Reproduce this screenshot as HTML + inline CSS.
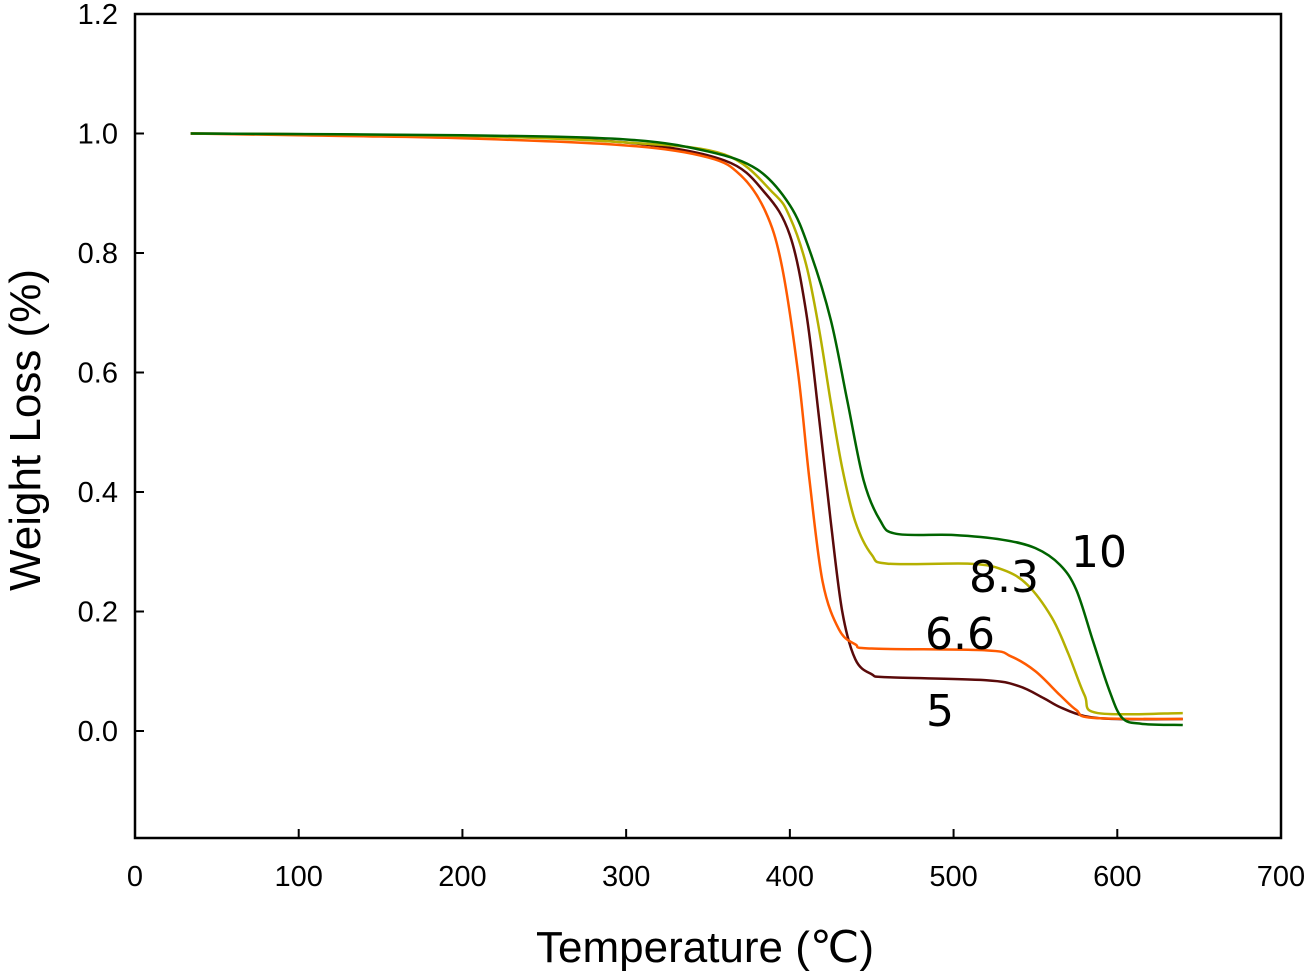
<!DOCTYPE html>
<html><head><meta charset="utf-8"><style>
body{margin:0;background:#fff;}
svg{display:block;font-family:"Liberation Sans",Arial,sans-serif;}
</style></head><body>
<svg id="chart" width="1307" height="973" viewBox="0 0 1307 973">
<g id="axes"></g>
<g id="series"></g>
<text x="705" y="962" font-size="44" text-anchor="middle" fill="#000">Temperature (℃)</text>
<text transform="translate(40,430) rotate(-90)" font-size="44" text-anchor="middle" fill="#000">Weight Loss (%)</text>
<g font-size="44" fill="#000" font-family="'DejaVu Sans',sans-serif">
<text x="1071" y="567">10</text>
<text x="969" y="592">8.3</text>
<text x="925" y="649">6.6</text>
<text x="926" y="726">5</text>
</g>
</svg>
<script>
const xTicks=[0,100,200,300,400,500,600,700];
const yTicks=[0.0,0.2,0.4,0.6,0.8,1.0,1.2];
const yTickLabels=["0.0","0.2","0.4","0.6","0.8","1.0","1.2"];
const t10=[34,200,300,350,380,400,412,425,435,445,455,465,500,530,550,565,575,585,595,603,615,640];
const w10=[1.0,0.997,0.99,0.97,0.94,0.88,0.805,0.688,0.554,0.42,0.353,0.33,0.328,0.32,0.306,0.278,0.236,0.152,0.069,0.022,0.012,0.01];
const t83=[34,200,300,360,390,400,410,418,425,432,440,450,460,510,530,545,560,570,580,588,640];
const w83=[1.0,0.996,0.985,0.965,0.9,0.86,0.78,0.67,0.55,0.44,0.35,0.295,0.28,0.28,0.27,0.245,0.19,0.13,0.06,0.03,0.03];
const t66=[34,100,200,300,350,370,385,395,405,412,420,430,440,450,520,535,550,565,575,585,640];
const w66=[1.0,0.997,0.992,0.98,0.96,0.93,0.87,0.78,0.6,0.42,0.25,0.17,0.145,0.138,0.135,0.125,0.1,0.06,0.035,0.022,0.02];
const t5=[34,200,300,360,385,400,410,418,425,432,440,450,460,520,540,555,565,580,600,640];
const w5=[1.0,0.996,0.985,0.955,0.9,0.83,0.7,0.52,0.35,0.2,0.12,0.095,0.09,0.085,0.075,0.055,0.04,0.025,0.02,0.02];
const L=135,R=1281,T=14,B=838;
function xs(v){return L+(v-0)*(R-L)/700;}
function ys(v){return 731-v*597.5;}
const NS="http://www.w3.org/2000/svg";
const axes=document.getElementById('axes');
const frame=document.createElementNS(NS,'rect');
frame.setAttribute('x',L);frame.setAttribute('y',T);frame.setAttribute('width',R-L);frame.setAttribute('height',B-T);
frame.setAttribute('fill','none');frame.setAttribute('stroke','#000');frame.setAttribute('stroke-width','2.5');


axes.appendChild(frame);
xTicks.forEach(v=>{
  const tk=document.createElementNS(NS,'line');
  tk.setAttribute('x1',xs(v));tk.setAttribute('x2',xs(v));tk.setAttribute('y1',B);tk.setAttribute('y2',B-9);
  tk.setAttribute('stroke','#000');tk.setAttribute('stroke-width','2');
  
  
  axes.appendChild(tk);
  const t=document.createElementNS(NS,'text');
  t.setAttribute('x',xs(v));t.setAttribute('y',886);t.setAttribute('font-size','29');t.setAttribute('text-anchor','middle');
  t.textContent=v;
  
  
  axes.appendChild(t);
});
yTicks.forEach((v,i)=>{
  const tk=document.createElementNS(NS,'line');
  tk.setAttribute('x1',L);tk.setAttribute('x2',L+9);tk.setAttribute('y1',ys(v));tk.setAttribute('y2',ys(v));
  tk.setAttribute('stroke','#000');tk.setAttribute('stroke-width','2');
  
  
  axes.appendChild(tk);
  const t=document.createElementNS(NS,'text');
  t.setAttribute('x',118);t.setAttribute('y',ys(v)+10);t.setAttribute('font-size','29');t.setAttribute('text-anchor','end');
  t.textContent=yTickLabels[i];
  
  
  axes.appendChild(t);
});
const ser=document.getElementById('series');
function draw(ts,ws,color,name){
  const P=ts.map((t,i)=>[xs(t),ys(ws[i])]);
  let d='M'+P[0][0]+','+P[0][1];
  for(let i=0;i<P.length-1;i++){
    const p0=P[Math.max(i-1,0)],p1=P[i],p2=P[i+1],p3=P[Math.min(i+2,P.length-1)];
    const k=1/6;
    const c1=[p1[0]+(p2[0]-p0[0])*k,p1[1]+(p2[1]-p0[1])*k];
    const c2=[p2[0]-(p3[0]-p1[0])*k,p2[1]-(p3[1]-p1[1])*k];
    d+=' C'+c1[0]+','+c1[1]+' '+c2[0]+','+c2[1]+' '+p2[0]+','+p2[1];
  }
  const p=document.createElementNS(NS,'path');
  p.setAttribute('d',d);
  p.setAttribute('fill','none');p.setAttribute('stroke',color);p.setAttribute('stroke-width','2.5');
  
  
  ser.appendChild(p);
}
draw(t5,w5,'#5a0a0a','series-5');
draw(t66,w66,'#ff5a00','series-6-6');
draw(t83,w83,'#b5b000','series-8-3');
draw(t10,w10,'#006400','series-10');
</script>
</body></html>
